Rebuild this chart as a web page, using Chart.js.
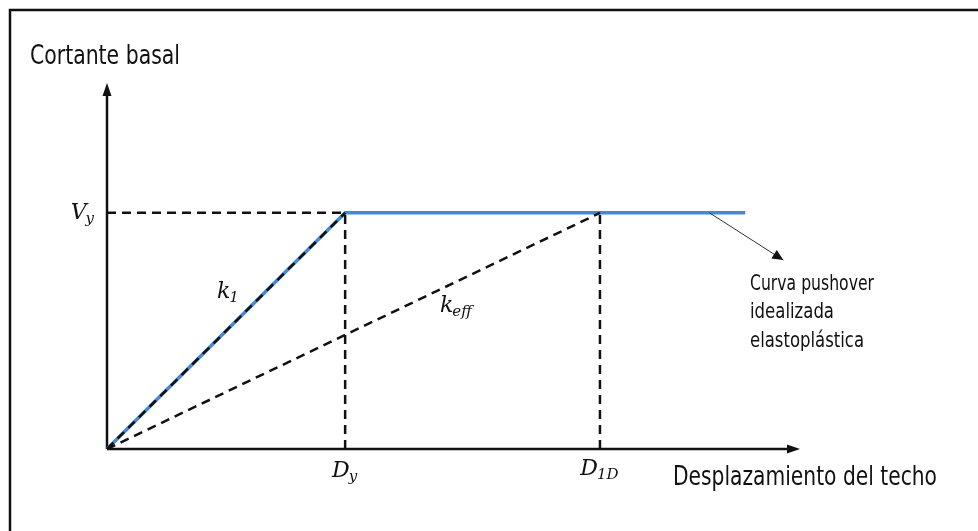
<!DOCTYPE html>
<html>
<head>
<meta charset="utf-8">
<script src="https://cdn.jsdelivr.net/npm/chart.js@4/dist/chart.umd.min.js"></script>
<style>
  html,body{margin:0;padding:0;background:#fff;}
  #wrap{width:978px;height:531px;position:relative;}
</style>
</head>
<body>
<div id="wrap"><canvas id="pushover"></canvas></div>
<script>
// normalised quantities: Vy = 1, Dy = 1
const Vy = 1.0;
const Dy = 1.0;
const D1D = 2.07;
const curveEnd = 2.68;
const xAxisEnd = 2.91;
const yAxisEnd = 1.55;

// idealised elastoplastic pushover curve
const curveX = [0, Dy, curveEnd];
const curveY = [0, Vy, Vy];

// annotation arrow: from a point on the curve to the note
const noteFrom = [2.53, Vy];
const noteTo = [2.84, 0.80];
const noteLines = ['Curva pushover', 'idealizada', 'elastoplástica'];

const xTitle = 'Desplazamiento del techo';
const yTitle = 'Cortante basal';

const pts = (xs, ys) => xs.map((x, i) => ({x, y: ys[i]}));
const blue = '#4589d6';
const narrow = "'DejaVu Sans Condensed', 'DejaVu Sans', sans-serif";
const mathMain = "italic 22px 'DejaVu Serif', serif";
const mathSub = "italic 15px 'DejaVu Serif', serif";

const dashed = (data, order) => ({
  data, borderColor: '#111', borderWidth: 2.5, borderDash: [9, 6],
  pointRadius: 0, showLine: true, clip: false, order
});
const solid = (data, color, width, order) => ({
  data, borderColor: color, borderWidth: width,
  pointRadius: 0, showLine: true, clip: false, order
});

// condensed text, squeezed to a given width if the face is too wide
function narrowText(ctx, text, x, y, size, maxW) {
  ctx.font = size + 'px ' + narrow;
  if ('fontStretch' in ctx) ctx.fontStretch = 'condensed';
  ctx.fillText(text, x, y, maxW);
  if ('fontStretch' in ctx) ctx.fontStretch = 'normal';
}

// label with subscript (main letter + smaller lowered part)
function subLabel(ctx, main, sub, x, y, align) {
  ctx.save();
  ctx.fillStyle = '#111';
  ctx.textBaseline = 'middle';
  ctx.textAlign = 'left';
  ctx.font = mathMain;
  const w1 = ctx.measureText(main).width;
  ctx.font = mathSub;
  const w2 = ctx.measureText(sub).width;
  let x0 = x;
  if (align === 'center') x0 = x - (w1 + w2) / 2;
  if (align === 'right') x0 = x - (w1 + w2);
  ctx.font = mathMain;
  ctx.fillText(main, x0, y);
  ctx.font = mathSub;
  ctx.fillText(sub, x0 + w1 - 1, y + 6);
  ctx.restore();
}

function arrowHead(ctx, x1, y1, x2, y2, len, half) {
  const a = Math.atan2(y2 - y1, x2 - x1);
  ctx.beginPath();
  ctx.moveTo(x2, y2);
  ctx.lineTo(x2 - len * Math.cos(a) + half * Math.sin(a), y2 - len * Math.sin(a) - half * Math.cos(a));
  ctx.lineTo(x2 - len * Math.cos(a) - half * Math.sin(a), y2 - len * Math.sin(a) + half * Math.cos(a));
  ctx.closePath();
  ctx.fill();
}

const decor = {
  id: 'decor',
  beforeDraw(chart) {
    const ctx = chart.ctx;
    ctx.save();
    ctx.fillStyle = '#fff';
    ctx.fillRect(0, 0, chart.width, chart.height);
    // frame (top and left edges)
    ctx.strokeStyle = '#111';
    ctx.lineWidth = 2.5;
    ctx.beginPath();
    ctx.moveTo(978, 10); ctx.lineTo(10, 10); ctx.lineTo(10, 531);
    ctx.stroke();
    ctx.restore();
  },
  afterDatasetsDraw(chart) {
    const ctx = chart.ctx;
    const xs = chart.scales.x, ys = chart.scales.y;
    const px = v => xs.getPixelForValue(v), py = v => ys.getPixelForValue(v);
    ctx.save();
    ctx.fillStyle = '#111';
    // axis arrowheads
    arrowHead(ctx, px(0), py(0), px(xAxisEnd), py(0), 13, 4.5);
    arrowHead(ctx, px(0), py(0), px(0), py(yAxisEnd), 13, 4.5);

    // axis titles
    ctx.textBaseline = 'middle';
    ctx.textAlign = 'left';
    narrowText(ctx, yTitle, 30, 57, 27, 150);
    narrowText(ctx, xTitle, 673, 478, 27, 264);

    // tick-like labels
    subLabel(ctx, 'V', 'y', px(0) - 12, py(Vy), 'right');
    subLabel(ctx, 'D', 'y', px(Dy), py(0) + 22, 'center');
    subLabel(ctx, 'D', '1D', px(D1D), py(0) + 20, 'center');
    subLabel(ctx, 'k', '1', 217, 292, 'left');
    subLabel(ctx, 'k', 'eff', 440, 306, 'left');

    // note arrow and text
    const ax = px(noteFrom[0]), ay = py(noteFrom[1]);
    const bx = px(noteTo[0]), by = py(noteTo[1]);
    ctx.strokeStyle = '#333';
    ctx.fillStyle = '#111';
    ctx.lineWidth = 1;
    ctx.beginPath(); ctx.moveTo(ax, ay); ctx.lineTo(bx, by); ctx.stroke();
    arrowHead(ctx, ax, ay, bx, by, 11, 5);
    const noteW = [124, 84, 114];
    noteLines.forEach((t, i) => narrowText(ctx, t, 750, 284 + i * 28.5, 22, noteW[i]));
    ctx.restore();
  }
};

new Chart(document.getElementById('pushover'), {
  type: 'scatter',
  data: {
    datasets: [
      dashed(pts([0, Dy], [0, Vy]), 0),          // k1
      dashed(pts([0, Dy], [Vy, Vy]), 1),         // Vy level
      dashed(pts([Dy, Dy], [0, Vy]), 1),         // Dy
      dashed(pts([D1D, D1D], [0, Vy]), 0),       // D1D
      dashed(pts([0, D1D], [0, Vy]), 1),         // keff
      solid(pts(curveX, curveY), blue, 3.5, 2),
      solid(pts([0, xAxisEnd - 0.03], [0, 0]), '#111', 2.5, 3),
      solid(pts([0, 0], [0, yAxisEnd - 0.03]), '#111', 2.5, 3)
    ]
  },
  options: {
    responsive: true,
    maintainAspectRatio: false,
    animation: false,
    layout: {padding: {left: 107, right: 178, top: 83, bottom: 82}},
    scales: {
      x: {type: 'linear', min: 0, max: xAxisEnd, display: false},
      y: {type: 'linear', min: 0, max: yAxisEnd, display: false}
    },
    plugins: {legend: {display: false}, tooltip: {enabled: false}}
  },
  plugins: [decor]
});
</script>
</body>
</html>
